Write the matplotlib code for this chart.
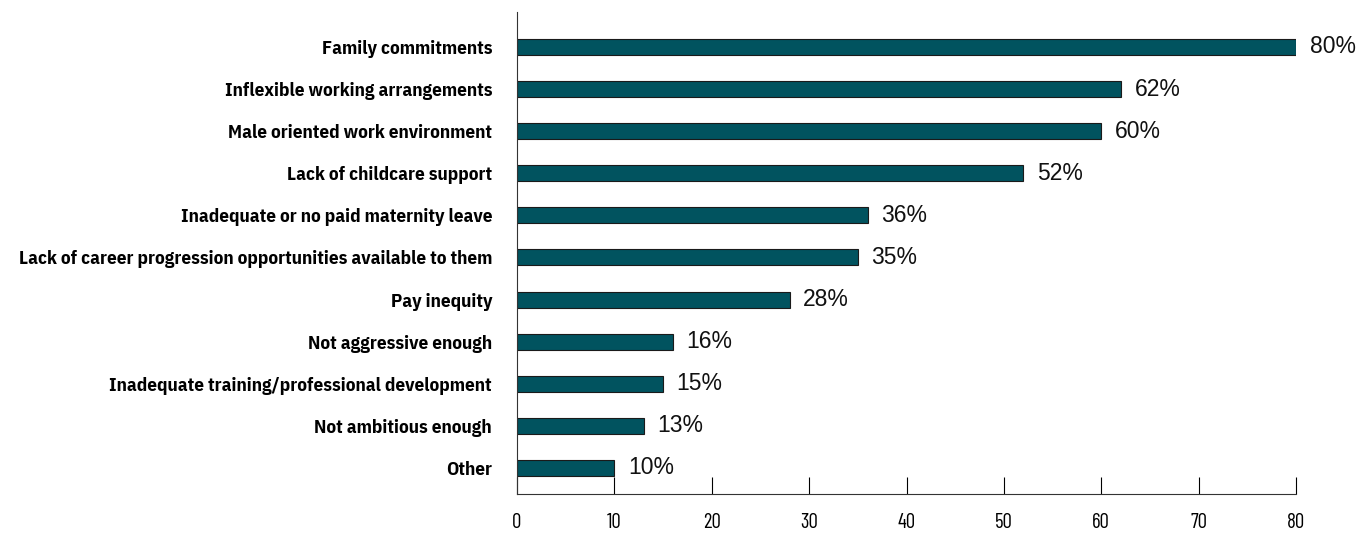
import matplotlib
matplotlib.use("Agg")
import matplotlib.pyplot as plt

# survey responses, percent
categories = [
    "Family commitments",
    "Inflexible working arrangements",
    "Male oriented work environment",
    "Lack of childcare support",
    "Inadequate or no paid maternity leave",
    "Lack of career progression opportunities available to them",
    "Pay inequity",
    "Not aggressive enough",
    "Inadequate training/professional development",
    "Not ambitious enough",
    "Other",
]
values = [80, 62, 60, 52, 36, 35, 28, 16, 15, 13, 10]
xticks = [0, 10, 20, 30, 40, 50, 60, 70, 80]

label_font = ["IBM Plex Sans Condensed", "PT Sans Narrow", "DejaVu Sans"]
tick_font = ["Barlow Condensed", "DejaVu Sans"]

fig = plt.figure(figsize=(13.7, 5.33), dpi=100)
ax = fig.add_axes([0.3774, 0.0732, 0.5686, 0.9043])

pos = list(range(len(categories)))
ax.barh(pos, values, height=0.38, color="#01535f", edgecolor="#1a1a1a", linewidth=0.8)

for y, v in zip(pos, values):
    ax.text(v + 1.4, y, f"{v}%", va="center", ha="left", fontsize=16.5,
            family="Liberation Sans", color="#111111")

ax.set_ylim(10.62, -0.83)
ax.set_xlim(0, 80)
ax.set_yticks(pos)
ax.set_yticklabels(categories, fontsize=13.8, fontweight="bold", family=label_font)
ax.tick_params(axis="y", length=0, pad=18)
ax.set_xticks(xticks)
ax.set_xticklabels([str(t) for t in xticks], fontsize=15, family=tick_font)
ax.tick_params(axis="x", direction="in", length=12, width=0.8, pad=14)

for s in ["top", "right"]:
    ax.spines[s].set_visible(False)
for s in ["left", "bottom"]:
    ax.spines[s].set_linewidth(0.8)
    ax.spines[s].set_color("#333333")

fig.savefig("out.png", dpi=100)
